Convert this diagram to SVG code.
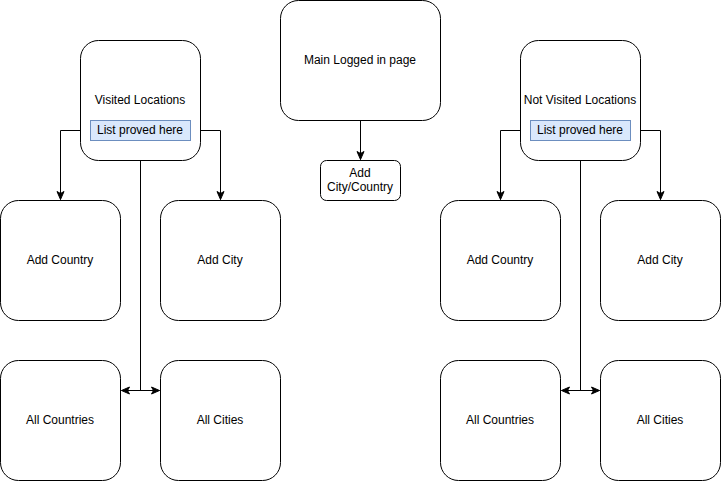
<svg xmlns="http://www.w3.org/2000/svg" width="721" height="481" viewBox="0 0 721 481">
<style>
.node{fill:#fff;stroke:#000;stroke-width:1}
.list{fill:#dae8fc;stroke:#6c8ebf;stroke-width:1}
text{font-family:"Liberation Sans",Arial,Helvetica,sans-serif;font-size:12px;fill:#000;text-anchor:middle;dominant-baseline:central}
.edge{fill:none;stroke:#000;stroke-width:1}
</style>
<defs>
<marker id="arr" markerUnits="userSpaceOnUse" viewBox="0 0 10 10" refX="9" refY="5" markerWidth="10" markerHeight="10" orient="auto-start-reverse">
<path d="M1,1.5 L9,5 L1,8.5 L3,5 z" fill="#000" stroke="#000" stroke-width="1"/>
</marker>
</defs>
<rect width="721" height="481" fill="#fff"/>
<g id="connectors">
<path class="edge" d="M80.5,130.5 H60.5 V199.5" marker-end="url(#arr)"/>
<path class="edge" d="M200.5,130.5 H220.5 V199.5" marker-end="url(#arr)"/>
<path class="edge" d="M140.5,160.5 V390.5"/>
<path class="edge" d="M121.5,390.5 H159.5" marker-start="url(#arr)" marker-end="url(#arr)"/>
<path class="edge" d="M360.5,120.5 V159.5" marker-end="url(#arr)"/>
<path class="edge" d="M520.5,130.5 H500.5 V199.5" marker-end="url(#arr)"/>
<path class="edge" d="M640.5,130.5 H660.5 V199.5" marker-end="url(#arr)"/>
<path class="edge" d="M580.5,160.5 V390.5"/>
<path class="edge" d="M561.5,390.5 H599.5" marker-start="url(#arr)" marker-end="url(#arr)"/>
</g>
<g id="visited">
<rect class="node" x="80.5" y="40.5" width="120" height="120" rx="18"/>
<text x="140" y="99.5">Visited Locations</text>
</g>
<g id="visited-list">
<rect class="list" x="90.5" y="120.5" width="100" height="20"/>
<text x="140" y="129.5">List proved here</text>
</g>
<g id="main">
<rect class="node" x="280.5" y="0.5" width="160" height="120" rx="18"/>
<text x="360" y="59.5">Main Logged in page</text>
</g>
<g id="add-city-country">
<rect class="node" x="320.5" y="160.5" width="80" height="40" rx="6"/>
<text x="360" y="172.5">Add</text>
<text x="360" y="186.5">City/Country</text>
</g>
<g id="notvisited">
<rect class="node" x="520.5" y="40.5" width="120" height="120" rx="18"/>
<text x="580" y="99.5">Not Visited Locations</text>
</g>
<g id="notvisited-list">
<rect class="list" x="530.5" y="120.5" width="100" height="20"/>
<text x="580" y="129.5">List proved here</text>
</g>
<g id="add-country-l">
<rect class="node" x="0.5" y="200.5" width="120" height="120" rx="18"/>
<text x="60" y="259.5">Add Country</text>
</g>
<g id="add-city-l">
<rect class="node" x="160.5" y="200.5" width="120" height="120" rx="18"/>
<text x="220" y="259.5">Add City</text>
</g>
<g id="all-countries-l">
<rect class="node" x="0.5" y="360.5" width="120" height="120" rx="18"/>
<text x="60" y="419.5">All Countries</text>
</g>
<g id="all-cities-l">
<rect class="node" x="160.5" y="360.5" width="120" height="120" rx="18"/>
<text x="220" y="419.5">All Cities</text>
</g>
<g id="add-country-r">
<rect class="node" x="440.5" y="200.5" width="120" height="120" rx="18"/>
<text x="500" y="259.5">Add Country</text>
</g>
<g id="add-city-r">
<rect class="node" x="600.5" y="200.5" width="120" height="120" rx="18"/>
<text x="660" y="259.5">Add City</text>
</g>
<g id="all-countries-r">
<rect class="node" x="440.5" y="360.5" width="120" height="120" rx="18"/>
<text x="500" y="419.5">All Countries</text>
</g>
<g id="all-cities-r">
<rect class="node" x="600.5" y="360.5" width="120" height="120" rx="18"/>
<text x="660" y="419.5">All Cities</text>
</g>
</svg>
